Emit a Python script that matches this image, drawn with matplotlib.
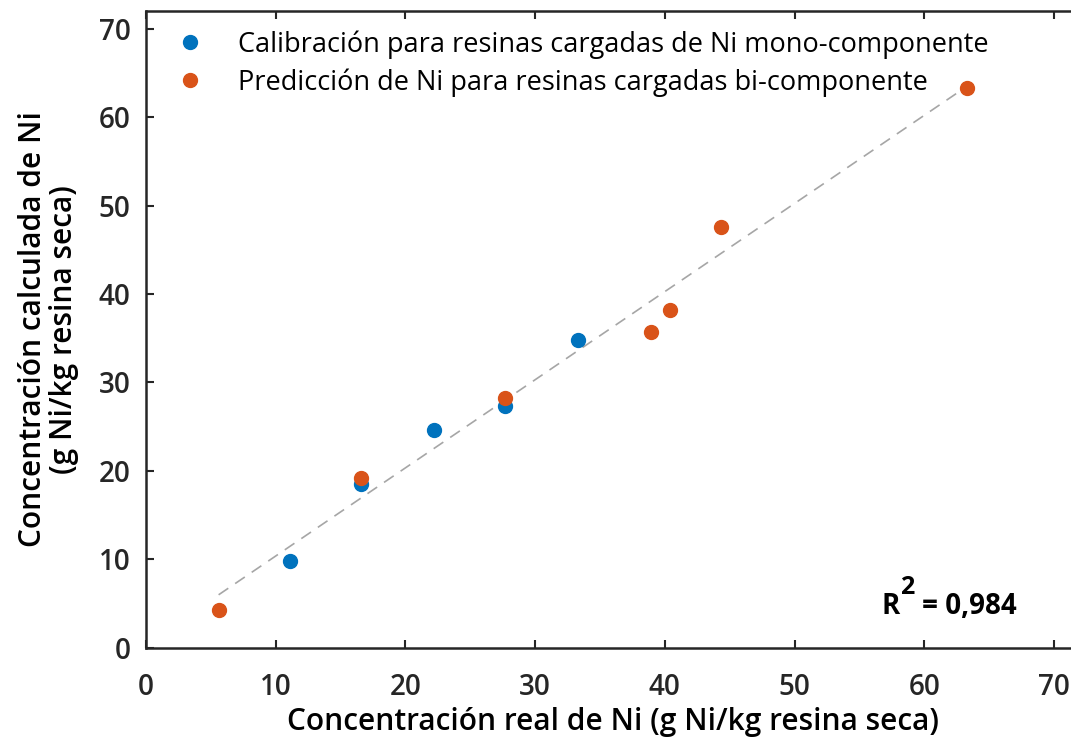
import matplotlib.pyplot as plt
import numpy as np

# calibration (single-component resins) and prediction (bi-component resins)
calib_real = [11.1, 16.6, 22.2, 27.7, 33.3]
calib_calc = [9.8, 18.5, 24.6, 27.3, 34.8]
pred_real = [5.6, 16.6, 27.7, 38.9, 40.4, 44.3, 63.3]
pred_calc = [4.3, 19.2, 28.2, 35.7, 38.2, 47.6, 63.3]

# fitted line y = slope * x + intercept
fit_slope = 0.997
fit_intercept = 0.4
r2_label = "0,984"

BLUE = "#0072BD"
ORANGE = "#D95319"
DARK = "#262626"

plt.rcParams["font.family"] = ["Open Sans", "DejaVu Sans"]

fig = plt.figure(figsize=(10.71, 7.42), dpi=100)
ax = fig.add_axes([0.1363, 0.1271, 0.8720, 0.8578])

fx = np.array([min(pred_real), max(pred_real)])
ax.plot(fx, fit_slope * fx + fit_intercept, color="#A6A6A6", lw=1.2,
        dashes=(7, 5), zorder=1)

ax.plot(calib_real, calib_calc, "o", color=BLUE, ms=10, ls="none",
        label="Calibración para resinas cargadas de Ni mono-componente", zorder=3)
ax.plot(pred_real, pred_calc, "o", color=ORANGE, ms=10, ls="none",
        label="Predicción de Ni para resinas cargadas bi-componente", zorder=4)

ax.set_xlim(0, 72)
ax.set_ylim(0, 72)
ax.set_xticks(np.arange(0, 71, 10))
ax.set_yticks(np.arange(0, 71, 10))
ax.tick_params(direction="in", length=6, width=1.5, color=DARK, top=True,
               right=True, labelsize=20, labelcolor=DARK)
ax.tick_params(axis="x", pad=18)
ax.tick_params(axis="y", pad=11)
for lbl in ax.get_xticklabels() + ax.get_yticklabels():
    lbl.set_fontweight("semibold")
for sp in ax.spines.values():
    sp.set_linewidth(1.8)
    sp.set_color(DARK)

ax.set_xlabel("Concentración real de Ni (g Ni/kg resina seca)", fontsize=21.5,
              fontweight="semibold", color="black", labelpad=4)
ax.set_ylabel("Concentración calculada de Ni\n(g Ni/kg resina seca)", fontsize=21.5,
              fontweight="semibold", color="black", labelpad=14, linespacing=1.05)

# R² annotation: letter, raised full-size exponent, then the value
r2_x, r2_y = 0.788, 0.064
ax.text(r2_x, r2_y, "R", transform=ax.transAxes, fontsize=20,
        fontweight="bold", color="black", ha="left", va="center")
ax.annotate("2", xy=(r2_x, r2_y), xycoords="axes fraction", xytext=(13, 14),
            textcoords="offset points", fontsize=18, fontweight="bold",
            color="black", ha="left", va="center")
ax.annotate("= " + r2_label, xy=(r2_x, r2_y), xycoords="axes fraction",
            xytext=(29, 0), textcoords="offset points", fontsize=20,
            fontweight="bold", color="black", ha="left", va="center")

ax.legend(loc="upper left", frameon=False, fontsize=19.5, handletextpad=1.3,
          labelspacing=0.35, borderaxespad=0.3, handlelength=1.0,
          bbox_to_anchor=(0.012, 1.0))

fig.savefig("out.png", dpi=100)
